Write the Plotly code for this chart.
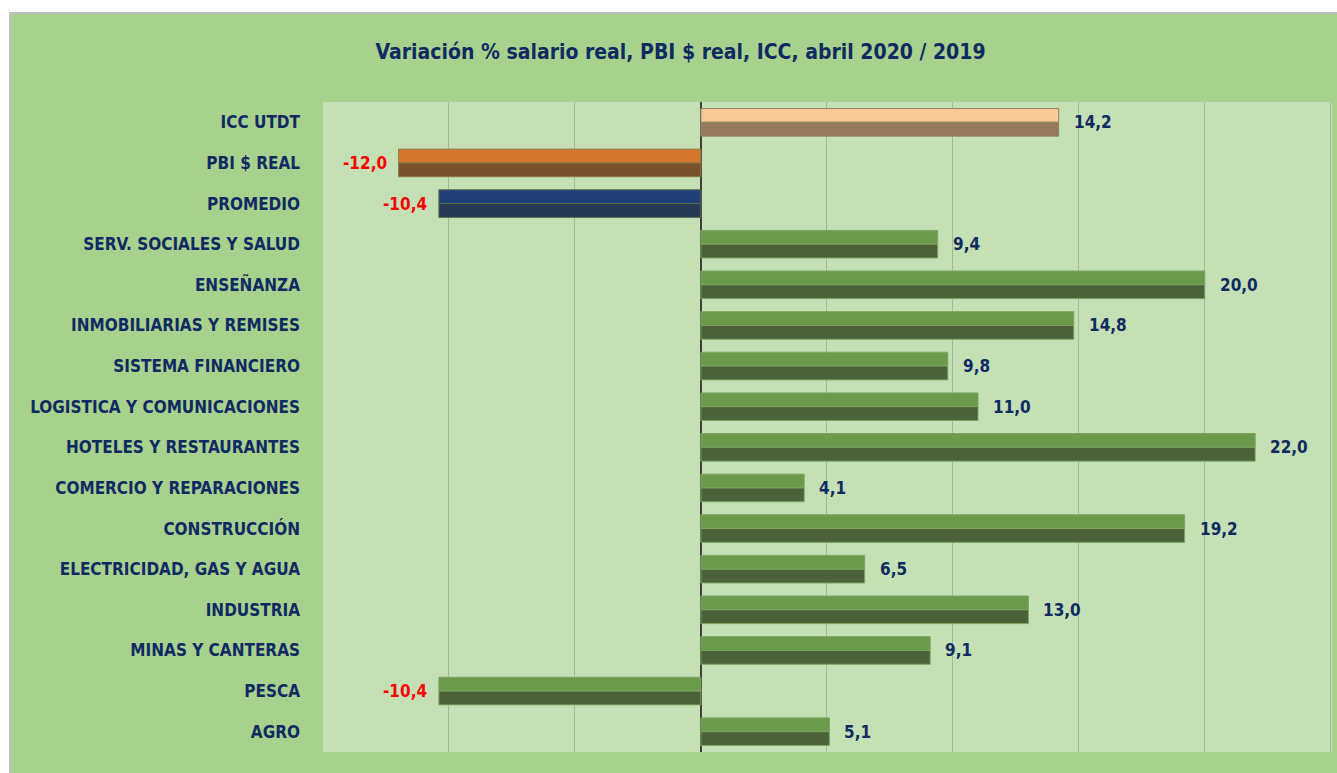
import plotly.graph_objects as go

categories = ["ICC UTDT", "PBI $ REAL", "PROMEDIO", "SERV. SOCIALES Y SALUD", "ENSEÑANZA",
              "INMOBILIARIAS Y REMISES", "SISTEMA FINANCIERO", "LOGISTICA Y COMUNICACIONES",
              "HOTELES Y RESTAURANTES", "COMERCIO Y REPARACIONES", "CONSTRUCCIÓN",
              "ELECTRICIDAD, GAS Y AGUA", "INDUSTRIA", "MINAS Y CANTERAS", "PESCA", "AGRO"]
values = [14.2, -12.0, -10.4, 9.4, 20.0, 14.8, 9.8, 11.0, 22.0, 4.1, 19.2, 6.5, 13.0, 9.1, -10.4, 5.1]

top_colors = ["#f8c896", "#d5762c", "#203f78"] + ["#6a9a4a"] * 13
bottom_colors = ["#967a5c", "#7b512c", "#263a55"] + ["#4b6239"] * 13
edge_colors = ["#8f8a5e", "#8c7a45", "#55704a"] + ["#7fa462"] * 13

FONT = "Liberation Sans Narrow, DejaVu Sans Condensed, Arial Narrow, sans-serif"
NAVY = "#0f2a62"

fig = go.Figure()
half = 0.34
fig.add_trace(go.Bar(
    y=categories, x=values, orientation="h", width=half, offset=-half,
    marker=dict(color=top_colors, line=dict(color=edge_colors, width=1)),
    hoverinfo="skip", showlegend=False))
fig.add_trace(go.Bar(
    y=categories, x=values, orientation="h", width=half, offset=0,
    marker=dict(color=bottom_colors, line=dict(color=edge_colors, width=1)),
    hoverinfo="skip", showlegend=False))

for c, v in zip(categories, values):
    txt = f"{v:.1f}".replace(".", ",")
    fig.add_annotation(
        x=v, y=c, xref="x", yref="y", text=txt, showarrow=False,
        xanchor="left" if v >= 0 else "right", xshift=13 if v >= 0 else -10,
        font=dict(family=FONT, size=17, color=NAVY if v >= 0 else "#ff0000", weight="bold"))

L, R, T, B = 323, 5, 102, 21
W, H = 1337, 773
pw, ph = W - L - R, H - T - B

def px_x(p):
    return (p - L) / pw

def px_y(p):
    return (H - B - p) / ph

shapes = [
    dict(type="rect", xref="paper", yref="paper", x0=px_x(0), x1=px_x(W + 5), y0=px_y(12), y1=px_y(-5),
         fillcolor="white", line=dict(width=0), layer="below"),
    dict(type="rect", xref="paper", yref="paper", x0=px_x(-5), x1=px_x(9), y0=px_y(H + 5), y1=px_y(-5),
         fillcolor="white", line=dict(width=0), layer="below"),
    dict(type="line", xref="paper", yref="paper", x0=px_x(9), x1=px_x(W + 5), y0=px_y(13), y1=px_y(13),
         line=dict(color="#bfbfbf", width=2), layer="below"),
    dict(type="line", xref="paper", yref="paper", x0=px_x(10), x1=px_x(10), y0=px_y(12), y1=px_y(H + 5),
         line=dict(color="#bfbfbf", width=2), layer="below"),
]

fig.update_layout(
    width=W, height=H,
    margin=dict(l=L, r=R, t=T, b=B),
    paper_bgcolor="#a9d18e",
    plot_bgcolor="#c5e0b4",
    barmode="overlay",
    bargap=0.3,
    title=dict(text="Variación % salario real, PBI $ real, ICC, abril 2020 / 2019",
               x=0.509, xanchor="center", y=1 - 52 / H, yanchor="middle", yref="container",
               font=dict(family=FONT, size=21, color=NAVY, weight="bold")),
    xaxis=dict(range=[-15, 25.05], dtick=5, tick0=0, showticklabels=False, showgrid=True,
               gridcolor="#a3b797", gridwidth=1, zeroline=True, zerolinecolor="#3f3f3f",
               zerolinewidth=2, showline=False, fixedrange=True),
    yaxis=dict(autorange="reversed", type="category", showgrid=False, ticks="",
               ticklabelstandoff=22,
               tickfont=dict(family=FONT, size=17, color=NAVY, weight="bold")),
    shapes=shapes,
)

fig.write_html("out.html", config={"displayModeBar": False},
               post_script="document.body.style.margin='0';document.body.style.overflow='hidden';")
